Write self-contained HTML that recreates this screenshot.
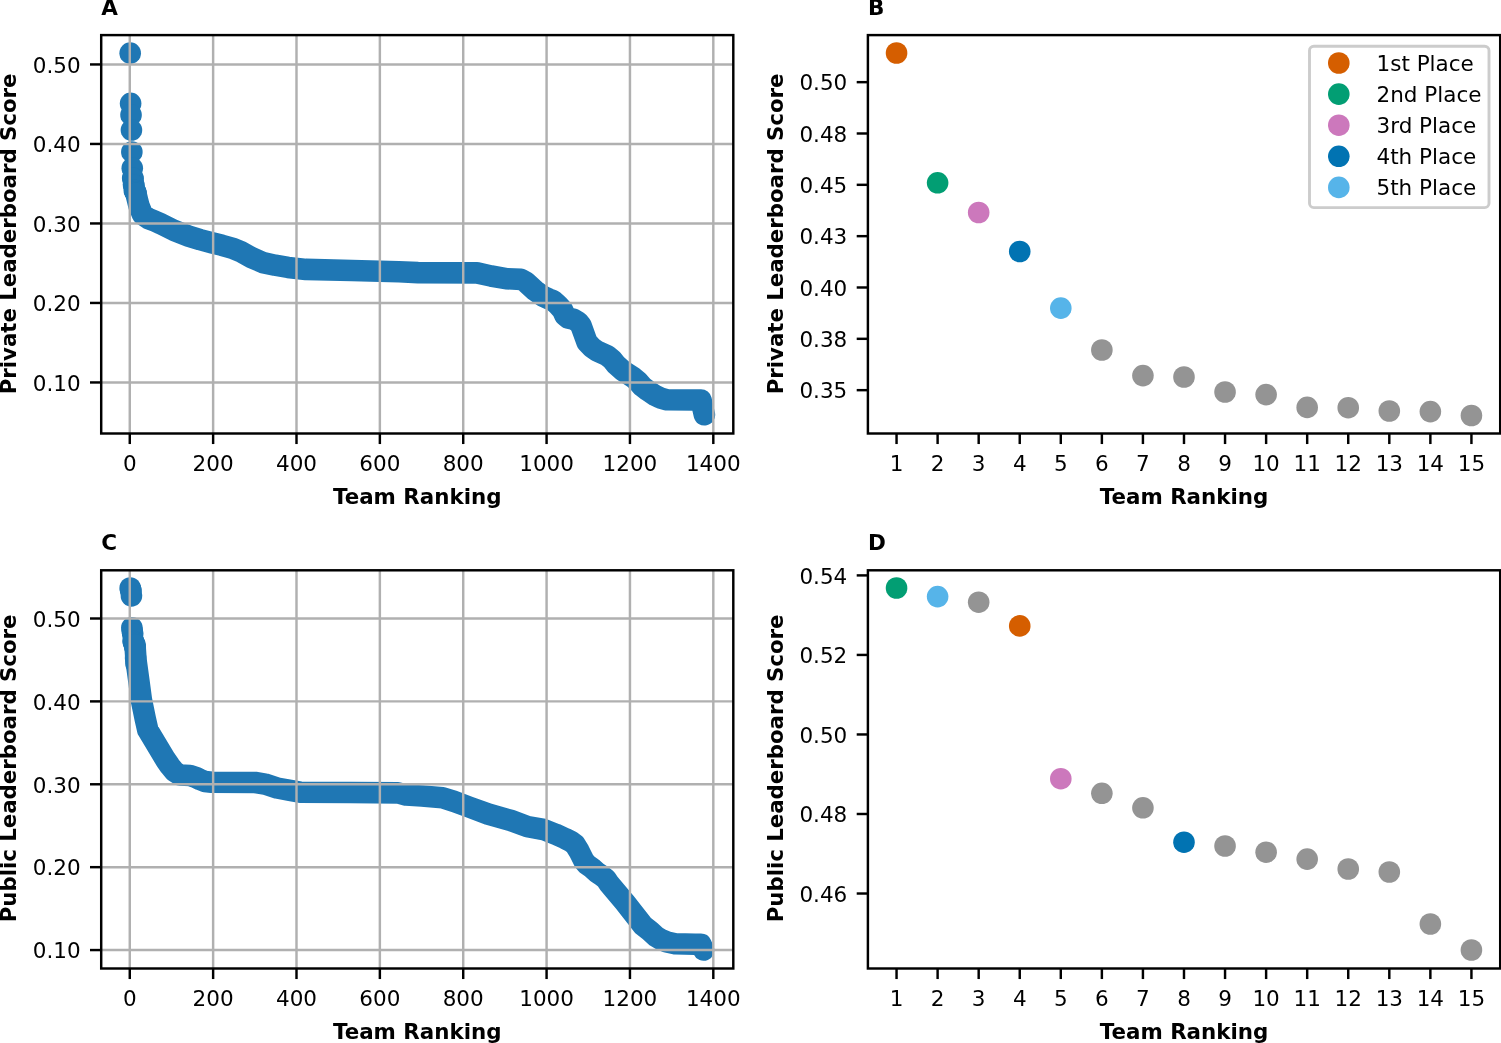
<!DOCTYPE html>
<html><head><meta charset="utf-8"><title>Leaderboard scores</title>
<style>html,body{margin:0;padding:0;background:#fff;overflow:hidden}svg{display:block}</style></head><body>
<svg width="1501" height="1043" viewBox="0 0 1501 1043" font-family="'DejaVu Sans', 'Liberation Sans', sans-serif">
<rect width="1501" height="1043" fill="#fff"/>
<defs>
<clipPath id="clipA"><rect x="101.2" y="35.1" width="632.10" height="398.40"/></clipPath>
<clipPath id="clipB"><rect x="867.9" y="35.1" width="632.30" height="398.40"/></clipPath>
<clipPath id="clipC"><rect x="101.2" y="570.3" width="632.10" height="398.20"/></clipPath>
<clipPath id="clipD"><rect x="867.9" y="570.3" width="632.30" height="398.20"/></clipPath>
</defs>
<g clip-path="url(#clipA)" fill="#1f77b4">
<circle cx="130.19" cy="53.16" r="10.8"/>
<circle cx="130.6" cy="103.42" r="10.8"/>
<circle cx="131.02" cy="114.92" r="10.8"/>
<circle cx="131.44" cy="130.02" r="10.8"/>
<circle cx="131.85" cy="151.93" r="10.8"/>
<circle cx="132.27" cy="168.15" r="10.8"/>
<circle cx="132.69" cy="178.06" r="10.8"/>
<circle cx="133.1" cy="178.61" r="10.8"/>
<circle cx="133.52" cy="184.41" r="10.8"/>
<circle cx="133.94" cy="185.42" r="10.8"/>
<circle cx="134.35" cy="190.38" r="10.8"/>
<circle cx="134.77" cy="190.49" r="10.8"/>
<circle cx="135.19" cy="191.77" r="10.8"/>
<circle cx="135.61" cy="192" r="10.8"/>
<circle cx="136.02" cy="193.51" r="10.8"/>
<path d="M135.9,193.4 L137.5,200 L138.9,205.7 L142.5,214.5 L148.5,218.6 L154.6,221 L161,223.9 L174,230.4 L188.6,236.1 L200,239.6 L211.7,242.7 L222,245.3 L233.7,248.7 L241,251.8 L251.3,257.5 L263,262.6 L275,265.2 L288,267.4 L306,269.4 L352,270.5 L399,271.8 L418,272.6 L477,272.9 L491,276 L506,278.7 L521,279.4 L526,282.2 L535,290.5 L543,296.2 L549,299 L553,300.5 L558,305 L562.5,310 L565,315.5 L568,318 L573.6,319.3 L578.2,322 L581,325.5 L587,342.1 L592,347.5 L597,351 L607.5,355.8 L612,359.5 L616,364.5 L623,370.8 L633.5,377.6 L638,381.5 L642.4,386.5 L647.5,390.4 L654.8,395.3 L660,397.8 L667,399.8 L694,400 L701,400 L704.4,414.8" fill="none" stroke="#1f77b4" stroke-width="21.6" stroke-linecap="round" stroke-linejoin="round"/>
</g>
<g stroke="#b0b0b0" stroke-width="2.45" clip-path="url(#clipA)">
<line x1="129.77" y1="35.1" x2="129.77" y2="433.5"/>
<line x1="213.13" y1="35.1" x2="213.13" y2="433.5"/>
<line x1="296.5" y1="35.1" x2="296.5" y2="433.5"/>
<line x1="379.86" y1="35.1" x2="379.86" y2="433.5"/>
<line x1="463.22" y1="35.1" x2="463.22" y2="433.5"/>
<line x1="546.58" y1="35.1" x2="546.58" y2="433.5"/>
<line x1="629.95" y1="35.1" x2="629.95" y2="433.5"/>
<line x1="713.31" y1="35.1" x2="713.31" y2="433.5"/>
<line x1="101.2" y1="382.45" x2="733.3" y2="382.45"/>
<line x1="101.2" y1="302.95" x2="733.3" y2="302.95"/>
<line x1="101.2" y1="223.45" x2="733.3" y2="223.45"/>
<line x1="101.2" y1="143.95" x2="733.3" y2="143.95"/>
<line x1="101.2" y1="64.45" x2="733.3" y2="64.45"/>
</g>
<g stroke="#000" stroke-width="2.45">
<line x1="129.77" y1="433.5" x2="129.77" y2="444.05"/>
<line x1="213.13" y1="433.5" x2="213.13" y2="444.05"/>
<line x1="296.5" y1="433.5" x2="296.5" y2="444.05"/>
<line x1="379.86" y1="433.5" x2="379.86" y2="444.05"/>
<line x1="463.22" y1="433.5" x2="463.22" y2="444.05"/>
<line x1="546.58" y1="433.5" x2="546.58" y2="444.05"/>
<line x1="629.95" y1="433.5" x2="629.95" y2="444.05"/>
<line x1="713.31" y1="433.5" x2="713.31" y2="444.05"/>
<line x1="101.2" y1="64.45" x2="90" y2="64.45"/>
<line x1="101.2" y1="143.95" x2="90" y2="143.95"/>
<line x1="101.2" y1="223.45" x2="90" y2="223.45"/>
<line x1="101.2" y1="302.95" x2="90" y2="302.95"/>
<line x1="101.2" y1="382.45" x2="90" y2="382.45"/>
</g>
<rect x="101.2" y="35.1" width="632.1" height="398.4" fill="none" stroke="#000" stroke-width="2.45" stroke-linejoin="miter"/>
<g font-size="21.5" fill="#000">
<text x="129.77" y="470.7" text-anchor="middle">0</text>
<text x="213.13" y="470.7" text-anchor="middle">200</text>
<text x="296.5" y="470.7" text-anchor="middle">400</text>
<text x="379.86" y="470.7" text-anchor="middle">600</text>
<text x="463.22" y="470.7" text-anchor="middle">800</text>
<text x="546.58" y="470.7" text-anchor="middle">1000</text>
<text x="629.95" y="470.7" text-anchor="middle">1200</text>
<text x="713.31" y="470.7" text-anchor="middle">1400</text>
<text x="80.6" y="72.75" text-anchor="end">0.50</text>
<text x="80.6" y="152.25" text-anchor="end">0.40</text>
<text x="80.6" y="231.75" text-anchor="end">0.30</text>
<text x="80.6" y="311.25" text-anchor="end">0.20</text>
<text x="80.6" y="390.75" text-anchor="end">0.10</text>
</g>
<text x="417.25" y="503.7" text-anchor="middle" font-size="21.4" font-weight="bold">Team Ranking</text>
<text transform="translate(16.1,233.9) rotate(-90)" x="0" y="0" text-anchor="middle" font-size="21.27" font-weight="bold">Private Leaderboard Score</text>
<text x="101.2" y="14.9" font-size="21.5" font-weight="bold">A</text>
<g clip-path="url(#clipC)" fill="#1f77b4">
<circle cx="130.19" cy="587.97" r="10.8"/>
<circle cx="130.6" cy="589.76" r="10.8"/>
<circle cx="131.02" cy="590.93" r="10.8"/>
<circle cx="131.44" cy="595.87" r="10.8"/>
<circle cx="131.85" cy="627.72" r="10.8"/>
<circle cx="132.27" cy="630.77" r="10.8"/>
<circle cx="132.69" cy="633.79" r="10.8"/>
<circle cx="133.1" cy="640.96" r="10.8"/>
<circle cx="133.52" cy="641.75" r="10.8"/>
<circle cx="133.94" cy="643.04" r="10.8"/>
<circle cx="134.35" cy="644.48" r="10.8"/>
<circle cx="134.77" cy="646.54" r="10.8"/>
<circle cx="135.19" cy="647.17" r="10.8"/>
<circle cx="135.61" cy="658.01" r="10.8"/>
<circle cx="136.02" cy="663.43" r="10.8"/>
<path d="M135,645 L136,660 L139,682 L141.4,700 L145.3,719 L147.8,730 L156.8,745 L165.5,759.5 L170,766 L174.5,771.5 L180,775 L190,775.5 L196,777.5 L200,779.5 L205,781.5 L211.7,782.25 L255,782.5 L265,784.1 L277,788 L290,790.4 L300,792.2 L350,792.5 L398,792.9 L406,795 L422,796 L442.5,797.8 L454,801.4 L469,807 L488,814 L511,820.5 L527.5,826.6 L543.6,829.5 L555.5,834.2 L565,838.5 L571,841.5 L575,844.5 L579,851 L584,861 L587,864.5 L592,868 L597,872.5 L601.5,875.5 L606,879 L609,883.5 L625,902.5 L643,925.5 L650,931 L656,936.5 L661,939.5 L667,942 L675,943.7 L695,944.3 L701,944.3 L703.5,950" fill="none" stroke="#1f77b4" stroke-width="21.6" stroke-linecap="round" stroke-linejoin="round"/>
</g>
<g stroke="#b0b0b0" stroke-width="2.45" clip-path="url(#clipC)">
<line x1="129.77" y1="570.3" x2="129.77" y2="968.5"/>
<line x1="213.13" y1="570.3" x2="213.13" y2="968.5"/>
<line x1="296.5" y1="570.3" x2="296.5" y2="968.5"/>
<line x1="379.86" y1="570.3" x2="379.86" y2="968.5"/>
<line x1="463.22" y1="570.3" x2="463.22" y2="968.5"/>
<line x1="546.58" y1="570.3" x2="546.58" y2="968.5"/>
<line x1="629.95" y1="570.3" x2="629.95" y2="968.5"/>
<line x1="713.31" y1="570.3" x2="713.31" y2="968.5"/>
<line x1="101.2" y1="950.06" x2="733.3" y2="950.06"/>
<line x1="101.2" y1="867.17" x2="733.3" y2="867.17"/>
<line x1="101.2" y1="784.28" x2="733.3" y2="784.28"/>
<line x1="101.2" y1="701.39" x2="733.3" y2="701.39"/>
<line x1="101.2" y1="618.5" x2="733.3" y2="618.5"/>
</g>
<g stroke="#000" stroke-width="2.45">
<line x1="129.77" y1="968.5" x2="129.77" y2="979.05"/>
<line x1="213.13" y1="968.5" x2="213.13" y2="979.05"/>
<line x1="296.5" y1="968.5" x2="296.5" y2="979.05"/>
<line x1="379.86" y1="968.5" x2="379.86" y2="979.05"/>
<line x1="463.22" y1="968.5" x2="463.22" y2="979.05"/>
<line x1="546.58" y1="968.5" x2="546.58" y2="979.05"/>
<line x1="629.95" y1="968.5" x2="629.95" y2="979.05"/>
<line x1="713.31" y1="968.5" x2="713.31" y2="979.05"/>
<line x1="101.2" y1="618.5" x2="90" y2="618.5"/>
<line x1="101.2" y1="701.39" x2="90" y2="701.39"/>
<line x1="101.2" y1="784.28" x2="90" y2="784.28"/>
<line x1="101.2" y1="867.17" x2="90" y2="867.17"/>
<line x1="101.2" y1="950.06" x2="90" y2="950.06"/>
</g>
<rect x="101.2" y="570.3" width="632.1" height="398.2" fill="none" stroke="#000" stroke-width="2.45" stroke-linejoin="miter"/>
<g font-size="21.5" fill="#000">
<text x="129.77" y="1005.7" text-anchor="middle">0</text>
<text x="213.13" y="1005.7" text-anchor="middle">200</text>
<text x="296.5" y="1005.7" text-anchor="middle">400</text>
<text x="379.86" y="1005.7" text-anchor="middle">600</text>
<text x="463.22" y="1005.7" text-anchor="middle">800</text>
<text x="546.58" y="1005.7" text-anchor="middle">1000</text>
<text x="629.95" y="1005.7" text-anchor="middle">1200</text>
<text x="713.31" y="1005.7" text-anchor="middle">1400</text>
<text x="80.6" y="626.8" text-anchor="end">0.50</text>
<text x="80.6" y="709.69" text-anchor="end">0.40</text>
<text x="80.6" y="792.58" text-anchor="end">0.30</text>
<text x="80.6" y="875.47" text-anchor="end">0.20</text>
<text x="80.6" y="958.36" text-anchor="end">0.10</text>
</g>
<text x="417.25" y="1038.7" text-anchor="middle" font-size="21.4" font-weight="bold">Team Ranking</text>
<text transform="translate(16.1,768.4) rotate(-90)" x="0" y="0" text-anchor="middle" font-size="21.27" font-weight="bold">Public Leaderboard Score</text>
<text x="101.2" y="550.1" font-size="21.5" font-weight="bold">C</text>
<g clip-path="url(#clipB)">
<circle cx="896.55" cy="53" r="10.8" fill="#D55E00"/>
<circle cx="937.61" cy="182.8" r="10.8" fill="#029E73"/>
<circle cx="978.68" cy="212.5" r="10.8" fill="#CC78BC"/>
<circle cx="1019.74" cy="251.5" r="10.8" fill="#0173B2"/>
<circle cx="1060.8" cy="308.1" r="10.8" fill="#56B4E9"/>
<circle cx="1101.87" cy="350" r="10.8" fill="#949494"/>
<circle cx="1142.93" cy="375.6" r="10.8" fill="#949494"/>
<circle cx="1183.99" cy="377" r="10.8" fill="#949494"/>
<circle cx="1225.05" cy="392" r="10.8" fill="#949494"/>
<circle cx="1266.12" cy="394.6" r="10.8" fill="#949494"/>
<circle cx="1307.18" cy="407.4" r="10.8" fill="#949494"/>
<circle cx="1348.24" cy="407.7" r="10.8" fill="#949494"/>
<circle cx="1389.31" cy="411" r="10.8" fill="#949494"/>
<circle cx="1430.37" cy="411.6" r="10.8" fill="#949494"/>
<circle cx="1471.43" cy="415.5" r="10.8" fill="#949494"/>
</g>
<g stroke="#000" stroke-width="2.45">
<line x1="896.55" y1="433.5" x2="896.55" y2="444.05"/>
<line x1="937.61" y1="433.5" x2="937.61" y2="444.05"/>
<line x1="978.68" y1="433.5" x2="978.68" y2="444.05"/>
<line x1="1019.74" y1="433.5" x2="1019.74" y2="444.05"/>
<line x1="1060.8" y1="433.5" x2="1060.8" y2="444.05"/>
<line x1="1101.87" y1="433.5" x2="1101.87" y2="444.05"/>
<line x1="1142.93" y1="433.5" x2="1142.93" y2="444.05"/>
<line x1="1183.99" y1="433.5" x2="1183.99" y2="444.05"/>
<line x1="1225.05" y1="433.5" x2="1225.05" y2="444.05"/>
<line x1="1266.12" y1="433.5" x2="1266.12" y2="444.05"/>
<line x1="1307.18" y1="433.5" x2="1307.18" y2="444.05"/>
<line x1="1348.24" y1="433.5" x2="1348.24" y2="444.05"/>
<line x1="1389.31" y1="433.5" x2="1389.31" y2="444.05"/>
<line x1="1430.37" y1="433.5" x2="1430.37" y2="444.05"/>
<line x1="1471.43" y1="433.5" x2="1471.43" y2="444.05"/>
<line x1="867.9" y1="82.16" x2="856.7" y2="82.16"/>
<line x1="867.9" y1="133.49" x2="856.7" y2="133.49"/>
<line x1="867.9" y1="184.82" x2="856.7" y2="184.82"/>
<line x1="867.9" y1="236.16" x2="856.7" y2="236.16"/>
<line x1="867.9" y1="287.49" x2="856.7" y2="287.49"/>
<line x1="867.9" y1="338.82" x2="856.7" y2="338.82"/>
<line x1="867.9" y1="390.16" x2="856.7" y2="390.16"/>
</g>
<rect x="867.9" y="35.1" width="632.3" height="398.4" fill="none" stroke="#000" stroke-width="2.45" stroke-linejoin="miter"/>
<g font-size="21.5" fill="#000">
<text x="896.55" y="470.7" text-anchor="middle">1</text>
<text x="937.61" y="470.7" text-anchor="middle">2</text>
<text x="978.68" y="470.7" text-anchor="middle">3</text>
<text x="1019.74" y="470.7" text-anchor="middle">4</text>
<text x="1060.8" y="470.7" text-anchor="middle">5</text>
<text x="1101.87" y="470.7" text-anchor="middle">6</text>
<text x="1142.93" y="470.7" text-anchor="middle">7</text>
<text x="1183.99" y="470.7" text-anchor="middle">8</text>
<text x="1225.05" y="470.7" text-anchor="middle">9</text>
<text x="1266.12" y="470.7" text-anchor="middle">10</text>
<text x="1307.18" y="470.7" text-anchor="middle">11</text>
<text x="1348.24" y="470.7" text-anchor="middle">12</text>
<text x="1389.31" y="470.7" text-anchor="middle">13</text>
<text x="1430.37" y="470.7" text-anchor="middle">14</text>
<text x="1471.43" y="470.7" text-anchor="middle">15</text>
<text x="847.3" y="90.46" text-anchor="end">0.50</text>
<text x="847.3" y="141.79" text-anchor="end">0.48</text>
<text x="847.3" y="193.12" text-anchor="end">0.45</text>
<text x="847.3" y="244.46" text-anchor="end">0.43</text>
<text x="847.3" y="295.79" text-anchor="end">0.40</text>
<text x="847.3" y="347.12" text-anchor="end">0.38</text>
<text x="847.3" y="398.46" text-anchor="end">0.35</text>
</g>
<text x="1184.05" y="503.7" text-anchor="middle" font-size="21.4" font-weight="bold">Team Ranking</text>
<text transform="translate(782.8,233.9) rotate(-90)" x="0" y="0" text-anchor="middle" font-size="21.27" font-weight="bold">Private Leaderboard Score</text>
<text x="867.9" y="14.9" font-size="21.5" font-weight="bold">B</text>
<rect x="1309.5" y="46.2" width="179.5" height="161.4" rx="4.3" ry="4.3" fill="#fff" fill-opacity="0.8" stroke="#cccccc" stroke-width="2.9"/>
<circle cx="1338.8" cy="63" r="10.8" fill="#D55E00"/>
<text x="1376.5" y="70.9" font-size="21.5">1st Place</text>
<circle cx="1338.8" cy="94.1" r="10.8" fill="#029E73"/>
<text x="1376.5" y="102" font-size="21.5">2nd Place</text>
<circle cx="1338.8" cy="125.2" r="10.8" fill="#CC78BC"/>
<text x="1376.5" y="133.1" font-size="21.5">3rd Place</text>
<circle cx="1338.8" cy="156.3" r="10.8" fill="#0173B2"/>
<text x="1376.5" y="164.2" font-size="21.5">4th Place</text>
<circle cx="1338.8" cy="187.4" r="10.8" fill="#56B4E9"/>
<text x="1376.5" y="195.3" font-size="21.5">5th Place</text>
<g clip-path="url(#clipD)">
<circle cx="896.55" cy="588" r="10.8" fill="#029E73"/>
<circle cx="937.61" cy="596.6" r="10.8" fill="#56B4E9"/>
<circle cx="978.68" cy="602.2" r="10.8" fill="#949494"/>
<circle cx="1019.74" cy="625.9" r="10.8" fill="#D55E00"/>
<circle cx="1060.8" cy="778.7" r="10.8" fill="#CC78BC"/>
<circle cx="1101.87" cy="793.3" r="10.8" fill="#949494"/>
<circle cx="1142.93" cy="807.8" r="10.8" fill="#949494"/>
<circle cx="1183.99" cy="842.2" r="10.8" fill="#0173B2"/>
<circle cx="1225.05" cy="846" r="10.8" fill="#949494"/>
<circle cx="1266.12" cy="852.2" r="10.8" fill="#949494"/>
<circle cx="1307.18" cy="859.1" r="10.8" fill="#949494"/>
<circle cx="1348.24" cy="869" r="10.8" fill="#949494"/>
<circle cx="1389.31" cy="872" r="10.8" fill="#949494"/>
<circle cx="1430.37" cy="924" r="10.8" fill="#949494"/>
<circle cx="1471.43" cy="950" r="10.8" fill="#949494"/>
</g>
<g stroke="#000" stroke-width="2.45">
<line x1="896.55" y1="968.5" x2="896.55" y2="979.05"/>
<line x1="937.61" y1="968.5" x2="937.61" y2="979.05"/>
<line x1="978.68" y1="968.5" x2="978.68" y2="979.05"/>
<line x1="1019.74" y1="968.5" x2="1019.74" y2="979.05"/>
<line x1="1060.8" y1="968.5" x2="1060.8" y2="979.05"/>
<line x1="1101.87" y1="968.5" x2="1101.87" y2="979.05"/>
<line x1="1142.93" y1="968.5" x2="1142.93" y2="979.05"/>
<line x1="1183.99" y1="968.5" x2="1183.99" y2="979.05"/>
<line x1="1225.05" y1="968.5" x2="1225.05" y2="979.05"/>
<line x1="1266.12" y1="968.5" x2="1266.12" y2="979.05"/>
<line x1="1307.18" y1="968.5" x2="1307.18" y2="979.05"/>
<line x1="1348.24" y1="968.5" x2="1348.24" y2="979.05"/>
<line x1="1389.31" y1="968.5" x2="1389.31" y2="979.05"/>
<line x1="1430.37" y1="968.5" x2="1430.37" y2="979.05"/>
<line x1="1471.43" y1="968.5" x2="1471.43" y2="979.05"/>
<line x1="867.9" y1="575.4" x2="856.7" y2="575.4"/>
<line x1="867.9" y1="654.93" x2="856.7" y2="654.93"/>
<line x1="867.9" y1="734.46" x2="856.7" y2="734.46"/>
<line x1="867.9" y1="813.99" x2="856.7" y2="813.99"/>
<line x1="867.9" y1="893.52" x2="856.7" y2="893.52"/>
</g>
<rect x="867.9" y="570.3" width="632.3" height="398.2" fill="none" stroke="#000" stroke-width="2.45" stroke-linejoin="miter"/>
<g font-size="21.5" fill="#000">
<text x="896.55" y="1005.7" text-anchor="middle">1</text>
<text x="937.61" y="1005.7" text-anchor="middle">2</text>
<text x="978.68" y="1005.7" text-anchor="middle">3</text>
<text x="1019.74" y="1005.7" text-anchor="middle">4</text>
<text x="1060.8" y="1005.7" text-anchor="middle">5</text>
<text x="1101.87" y="1005.7" text-anchor="middle">6</text>
<text x="1142.93" y="1005.7" text-anchor="middle">7</text>
<text x="1183.99" y="1005.7" text-anchor="middle">8</text>
<text x="1225.05" y="1005.7" text-anchor="middle">9</text>
<text x="1266.12" y="1005.7" text-anchor="middle">10</text>
<text x="1307.18" y="1005.7" text-anchor="middle">11</text>
<text x="1348.24" y="1005.7" text-anchor="middle">12</text>
<text x="1389.31" y="1005.7" text-anchor="middle">13</text>
<text x="1430.37" y="1005.7" text-anchor="middle">14</text>
<text x="1471.43" y="1005.7" text-anchor="middle">15</text>
<text x="847.3" y="583.7" text-anchor="end">0.54</text>
<text x="847.3" y="663.23" text-anchor="end">0.52</text>
<text x="847.3" y="742.76" text-anchor="end">0.50</text>
<text x="847.3" y="822.29" text-anchor="end">0.48</text>
<text x="847.3" y="901.82" text-anchor="end">0.46</text>
</g>
<text x="1184.05" y="1038.7" text-anchor="middle" font-size="21.4" font-weight="bold">Team Ranking</text>
<text transform="translate(782.8,768.4) rotate(-90)" x="0" y="0" text-anchor="middle" font-size="21.27" font-weight="bold">Public Leaderboard Score</text>
<text x="867.9" y="550.1" font-size="21.5" font-weight="bold">D</text>
</svg></body></html>
